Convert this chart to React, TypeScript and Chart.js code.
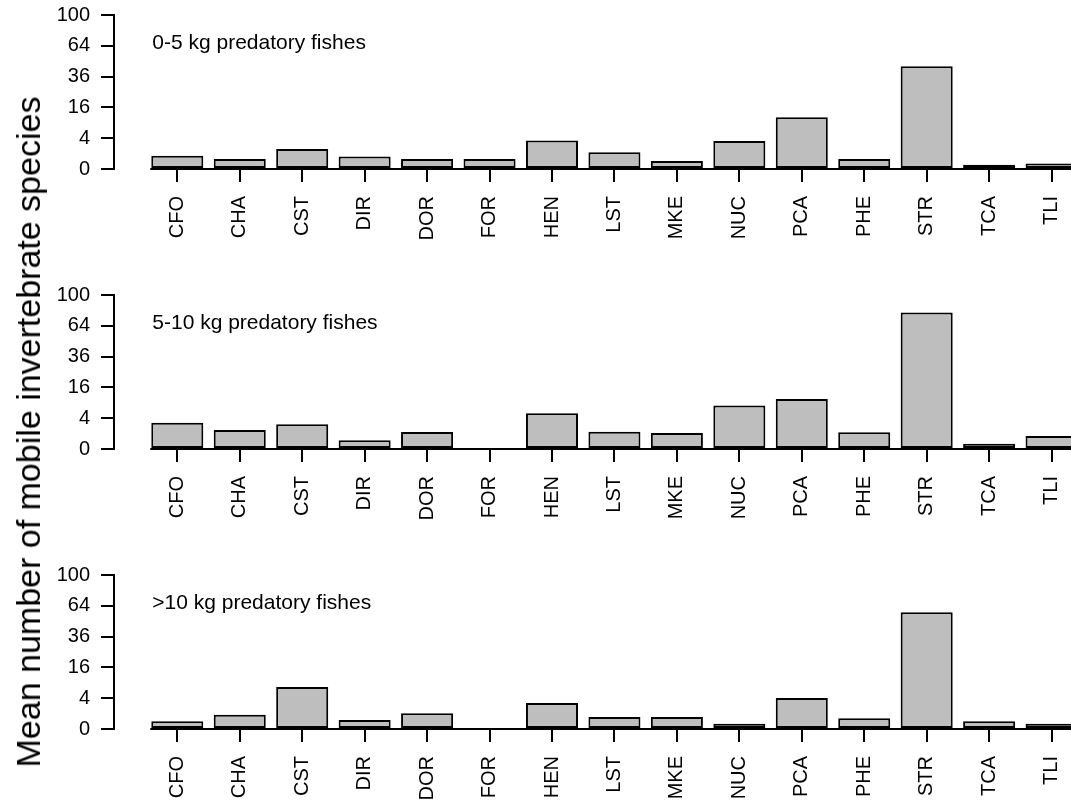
import React, { useEffect, useRef } from "react";
import { Chart, registerables, LinearScale } from "chart.js";

// ---------------- data ----------------
const categories = ["CFO", "CHA", "CST", "DIR", "DOR", "FOR", "HEN", "LST", "MKE", "NUC", "PCA", "PHE", "STR", "TCA", "TLI"];
const panelTitles = ["0-5 kg predatory fishes", "5-10 kg predatory fishes", ">10 kg predatory fishes"];
const smallFish = [0.75, 0.43, 1.7, 0.65, 0.43, 0.43, 3.4, 1.17, 0.27, 3.3, 11.3, 0.43, 44.5, 0.08, 0.13];
const mediumFish = [2.9, 1.52, 2.6, 0.32, 1.22, 0, 5.4, 1.26, 1.08, 8.0, 10.5, 1.17, 78.7, 0.12, 0.71];
const largeFish = [0.25, 0.86, 7.4, 0.34, 1.03, 0, 2.84, 0.6, 0.6, 0.12, 4.04, 0.48, 57.5, 0.25, 0.12];
const yTickValues = [0, 4, 16, 36, 64, 100];
const yAxisTitle = "Mean number of mobile invertebrate species";

// ---------------- square-root scale ----------------
class SqrtScale extends LinearScale {
  static id = "sqrt";
  static defaults = LinearScale.defaults;
  buildTicks() {
    return yTickValues.map((v) => ({ value: v }));
  }
  getPixelForValue(value: any) {
    if (value === null || value === undefined || isNaN(value)) return NaN;
    const lo = Math.sqrt(Math.max(this.min, 0));
    const hi = Math.sqrt(this.max);
    return this.getPixelForDecimal((Math.sqrt(Math.max(value, 0)) - lo) / (hi - lo));
  }
  getValueForPixel(pixel: number) {
    const d = this.getDecimalForPixel(pixel);
    const lo = Math.sqrt(Math.max(this.min, 0));
    const hi = Math.sqrt(this.max);
    const s = lo + d * (hi - lo);
    return s * s;
  }
}

Chart.register(...registerables, SqrtScale as any);

const FONT_FAMILY = "'Liberation Sans', Arial, Helvetica, sans-serif";
const W = 1071;
const AREA_TOP = 15;
const AREA_BOTTOM = 169;
const X_MIN = -1.0136;
const X_MAX = 14.311;

const panelTitlePlugin = {
  id: "panelTitle",
  afterDraw(chart: any, _args: any, opts: any) {
    const meta = chart.getDatasetMeta(0);
    const bar = meta.data[0];
    if (!bar) return;
    const left = bar.x - bar.width / 2;
    const ctx = chart.ctx;
    ctx.save();
    ctx.font = `21px ${FONT_FAMILY}`;
    ctx.fillStyle = "#000";
    ctx.textAlign = "left";
    ctx.textBaseline = "alphabetic";
    ctx.fillText(opts.text, left + 1, chart.chartArea.top + 34);
    ctx.restore();
  },
};

const baselinePlugin = {
  id: "baseline",
  afterDatasetsDraw(chart: any) {
    const meta = chart.getDatasetMeta(0);
    const bar = meta.data[0];
    if (!bar) return;
    const left = bar.x - bar.width / 2;
    const y = Math.round(chart.scales.y.getPixelForValue(0));
    const ctx = chart.ctx;
    ctx.save();
    ctx.strokeStyle = "#000";
    ctx.lineWidth = 2;
    ctx.beginPath();
    ctx.moveTo(left - 1, y);
    ctx.lineTo(chart.chartArea.right, y);
    ctx.stroke();
    ctx.restore();
  },
};

function Panel({ values, title, top, height }: { values: number[]; title: string; top: number; height: number }) {
  const ref = useRef<HTMLCanvasElement>(null);
  useEffect(() => {
    const tickFont = { family: FONT_FAMILY, size: 20 };
    const chart = new Chart(ref.current as HTMLCanvasElement, {
      type: "bar",
      data: {
        datasets: [
          {
            data: values.map((v, i) => ({ x: i, y: v })),
            backgroundColor: "#BEBEBE",
            borderColor: "#000000",
            borderWidth: 2,
            borderSkipped: false,
            barPercentage: 1 / 1.2,
            categoryPercentage: 1,
          } as any,
        ],
      },
      options: {
        responsive: false,
        animation: false,
        events: [],
        layout: { padding: { top: AREA_TOP, right: 0, bottom: 0, left: 0 } },
        plugins: {
          legend: { display: false },
          tooltip: { enabled: false },
          panelTitle: { text: title },
        } as any,
        scales: {
          x: {
            type: "linear",
            min: X_MIN,
            max: X_MAX,
            offset: false,
            afterBuildTicks: (s: any) => {
              s.ticks = categories.map((_, i) => ({ value: i }));
            },
            afterFit: (s: any) => {
              s.height = height - AREA_BOTTOM;
              s.paddingLeft = 0;
              s.paddingRight = 0;
            },
            border: { display: false },
            grid: { drawOnChartArea: false, offset: false, tickLength: 13, color: "#000", lineWidth: 2 },
            ticks: {
              autoSkip: false,
              minRotation: 90,
              maxRotation: 90,
              padding: 14,
              color: "#000",
              font: tickFont,
              callback: (v: any) => categories[v] ?? "",
            },
          },
          y: {
            type: "sqrt" as any,
            min: 0,
            max: 100,
            afterFit: (s: any) => {
              s.width = 114;
              s.paddingTop = 0;
              s.paddingBottom = 0;
            },
            border: { display: true, color: "#000", width: 2 },
            grid: { drawOnChartArea: false, tickLength: 13, color: "#000", lineWidth: 2 },
            ticks: { padding: 11, color: "#000", font: tickFont, callback: (v: any) => String(v) },
          },
        } as any,
      },
      plugins: [panelTitlePlugin, baselinePlugin],
    });
    return () => chart.destroy();
  }, [values, title, height]);
  return (
    <canvas
      ref={ref}
      width={W}
      height={height}
      style={{ position: "absolute", left: 0, top, width: W, height, display: "block" }}
    />
  );
}

export default function App() {
  return (
    <div style={{ position: "absolute", left: 0, top: 0, width: W, height: 805, overflow: "hidden", background: "#fff" }}>
      <Panel values={smallFish} title={panelTitles[0]} top={0} height={280} />
      <Panel values={mediumFish} title={panelTitles[1]} top={280} height={280} />
      <Panel values={largeFish} title={panelTitles[2]} top={560} height={245} />
      <div
        style={{
          position: "absolute",
          left: 28,
          top: 432,
          transform: "translate(-50%, -50%) rotate(-90deg)",
          whiteSpace: "nowrap",
          fontFamily: FONT_FAMILY,
          fontSize: 34,
          color: "#000",
          lineHeight: 1,
        }}
      >
        {yAxisTitle}
      </div>
    </div>
  );
}
